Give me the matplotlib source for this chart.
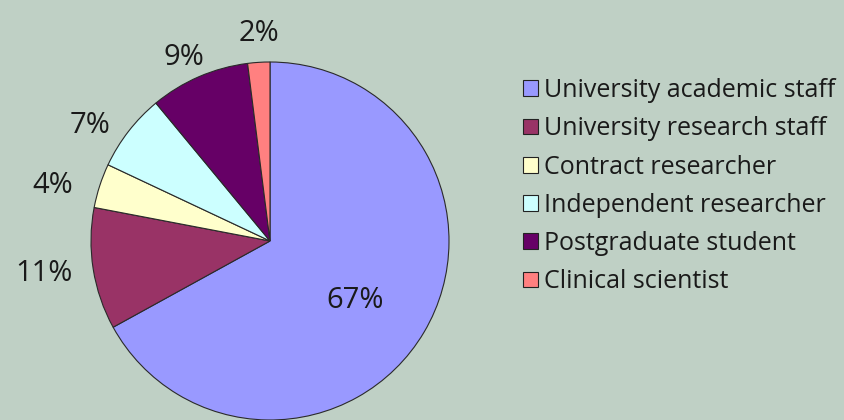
import matplotlib
matplotlib.use("Agg")
import matplotlib.pyplot as plt
import numpy as np

categories = ["University academic staff", "University research staff", "Contract researcher",
              "Independent researcher", "Postgraduate student", "Clinical scientist"]
values = [67, 11, 4, 7, 9, 2]
colors = ["#9999FF", "#993366", "#FFFFCC", "#CCFFFF", "#660066", "#FF8080"]

# percentage label placement: radial distance (fraction of radius) and angular nudge (deg)
label_dist = [0.58, 1.276, 1.251, 1.195, 1.132, 1.161]
label_nudge = [-4.4, -0.8, 3.65, 5.1, 1.7, -0.6]

plt.rcParams['font.family'] = ['Open Sans', 'DejaVu Sans']

W, H = 844, 420
fig = plt.figure(figsize=(W / 100, H / 100), dpi=100)
bg = "#BFD0C5"
fig.patch.set_facecolor(bg)

cx, cy, r = 270, 241, 179
ax = fig.add_axes([(cx - r) / W, (H - cy - r) / H, 2 * r / W, 2 * r / H])
ax.axis('off')

wedges, texts, autotexts = ax.pie(values, colors=colors, startangle=90, counterclock=False,
                                   autopct='%d%%', pctdistance=1.2, radius=1,
                                   wedgeprops=dict(edgecolor='#2a2a2a', linewidth=0.8),
                                   textprops=dict(fontsize=21, color='#1a1a1a'))
ax.set_xlim(-1, 1)
ax.set_ylim(-1, 1)
ax.set_aspect('equal')
for w, t, d, n in zip(wedges, autotexts, label_dist, label_nudge):
    w.set_clip_on(False)
    mid = np.deg2rad((w.theta1 + w.theta2) / 2 + n)
    t.set_position((d * np.cos(mid), d * np.sin(mid)))
    t.set_clip_on(False)

leg = fig.legend(wedges, categories, loc='upper left', bbox_to_anchor=(523 / W, 1 - 78 / H),
                 frameon=False, fontsize=18, handlelength=0.6, handleheight=0.6,
                 handletextpad=0.25, labelspacing=0.53, borderaxespad=0, borderpad=0)
for t in leg.get_texts():
    t.set_color('#1a1a1a')
for h in leg.legend_handles:
    h.set_edgecolor('#222222')
    h.set_linewidth(0.8)

fig.savefig("out.png", dpi=100, facecolor=bg)
